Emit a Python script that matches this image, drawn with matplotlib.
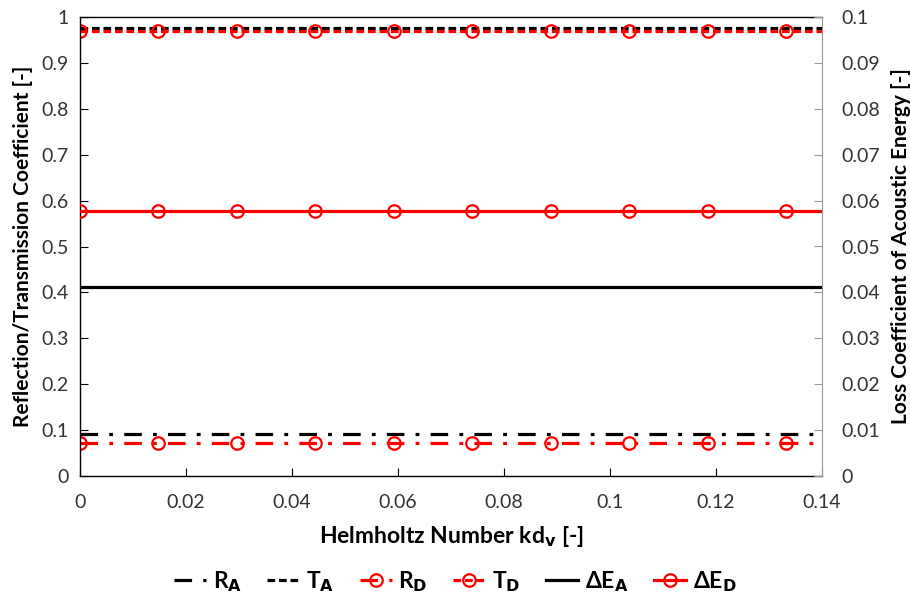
import matplotlib
matplotlib.use("Agg")
import matplotlib.pyplot as plt

plt.rcParams['font.family'] = ['Lato', 'DejaVu Sans']

# Data
x = [0, 0.0148, 0.0296, 0.0444, 0.0592, 0.074, 0.0888, 0.1036, 0.1184, 0.1332, 0.14]
R_A = [0.092] * 11
T_A = [0.976] * 11
R_D = [0.072] * 11
T_D = [0.969] * 11
dE_A = [0.0411] * 11
dE_D = [0.0578] * 11

xticks = [0, 0.02, 0.04, 0.06, 0.08, 0.1, 0.12, 0.14]
xtick_labels = ['0', '0.02', '0.04', '0.06', '0.08', '0.1', '0.12', '0.14']
yticks_l = [0, 0.1, 0.2, 0.3, 0.4, 0.5, 0.6, 0.7, 0.8, 0.9, 1.0]
ytick_l_labels = ['0', '0.1', '0.2', '0.3', '0.4', '0.5', '0.6', '0.7', '0.8', '0.9', '1']
yticks_r = [0, 0.01, 0.02, 0.03, 0.04, 0.05, 0.06, 0.07, 0.08, 0.09, 0.1]
ytick_r_labels = ['0', '0.01', '0.02', '0.03', '0.04', '0.05', '0.06', '0.07', '0.08', '0.09', '0.1']

fig = plt.figure(figsize=(9.1, 6.01), dpi=100)
ax = fig.add_axes([80/910, 1-476/601, (822-80)/910, (476-17)/601])
ax2 = ax.twinx()

lw = 2.3
me = list(range(10))
red = '#ff0000'
mk = dict(marker='o', markersize=9, markerfacecolor='none', markeredgewidth=1.6, markevery=me)
dd = [5.5, 3.5, 1.2, 3.5]
ds = [2.4, 1.2]

ax.plot(x, R_A, color='black', lw=lw, dashes=dd, label='R$_\\mathbf{A}$')
ax.plot(x, T_A, color='black', lw=lw, dashes=ds, label='T$_\\mathbf{A}$')
ax.plot(x, R_D, color=red, lw=lw, dashes=dd, markeredgecolor=red, label='R$_\\mathbf{D}$', **mk)
ax.plot(x, T_D, color=red, lw=lw, dashes=ds, markeredgecolor=red, label='T$_\\mathbf{D}$', **mk)
ax2.plot(x, dE_A, color='black', lw=lw, label='ΔE$_\\mathbf{A}$')
ax2.plot(x, dE_D, color=red, lw=lw, markeredgecolor=red, label='ΔE$_\\mathbf{D}$', **mk)

ax.set_xlim(0, 0.14)
ax.set_ylim(0, 1)
ax2.set_ylim(0, 0.1)
ax.set_xticks(xticks)
ax.set_xticklabels(xtick_labels)
ax.set_yticks(yticks_l)
ax.set_yticklabels(ytick_l_labels)
ax2.set_yticks(yticks_r)
ax2.set_yticklabels(ytick_r_labels)

ax.tick_params(axis='both', direction='in', length=6, labelsize=14, labelcolor='#333333', color='black', pad=8)
ax.tick_params(axis='x', pad=13)
ax2.tick_params(axis='y', direction='in', length=6, labelsize=14, labelcolor='#333333', color='#999999', pad=14)

ax.spines['right'].set_visible(False)
for s in ax.spines.values():
    s.set_linewidth(1.0)
    s.set_color('black')
ax2.spines['right'].set_color('#999999')
ax2.spines['top'].set_visible(False)
ax2.spines['left'].set_visible(False)
ax2.spines['bottom'].set_visible(False)

ax.set_xlabel('Helmholtz Number kd$_\\mathbf{v}$ [-]', fontsize=16.5, fontweight='bold', labelpad=9)
ax.set_ylabel('Reflection/Transmission Coefficient [-]', fontsize=15, fontweight='bold', labelpad=6)
ax2.set_ylabel('Loss Coefficient of Acoustic Energy [-]', fontsize=15, fontweight='bold', labelpad=8)

h1, l1 = ax.get_legend_handles_labels()
h2, l2 = ax2.get_legend_handles_labels()
leg = fig.legend(h1 + h2, l1 + l2, loc='lower center', bbox_to_anchor=(0.5, -0.022), ncol=6, frameon=False,
                 prop={'size': 16.5, 'weight': 'bold'}, handlelength=1.4, handletextpad=0.3, columnspacing=1.1)

fig.savefig('out.png', dpi=100)
